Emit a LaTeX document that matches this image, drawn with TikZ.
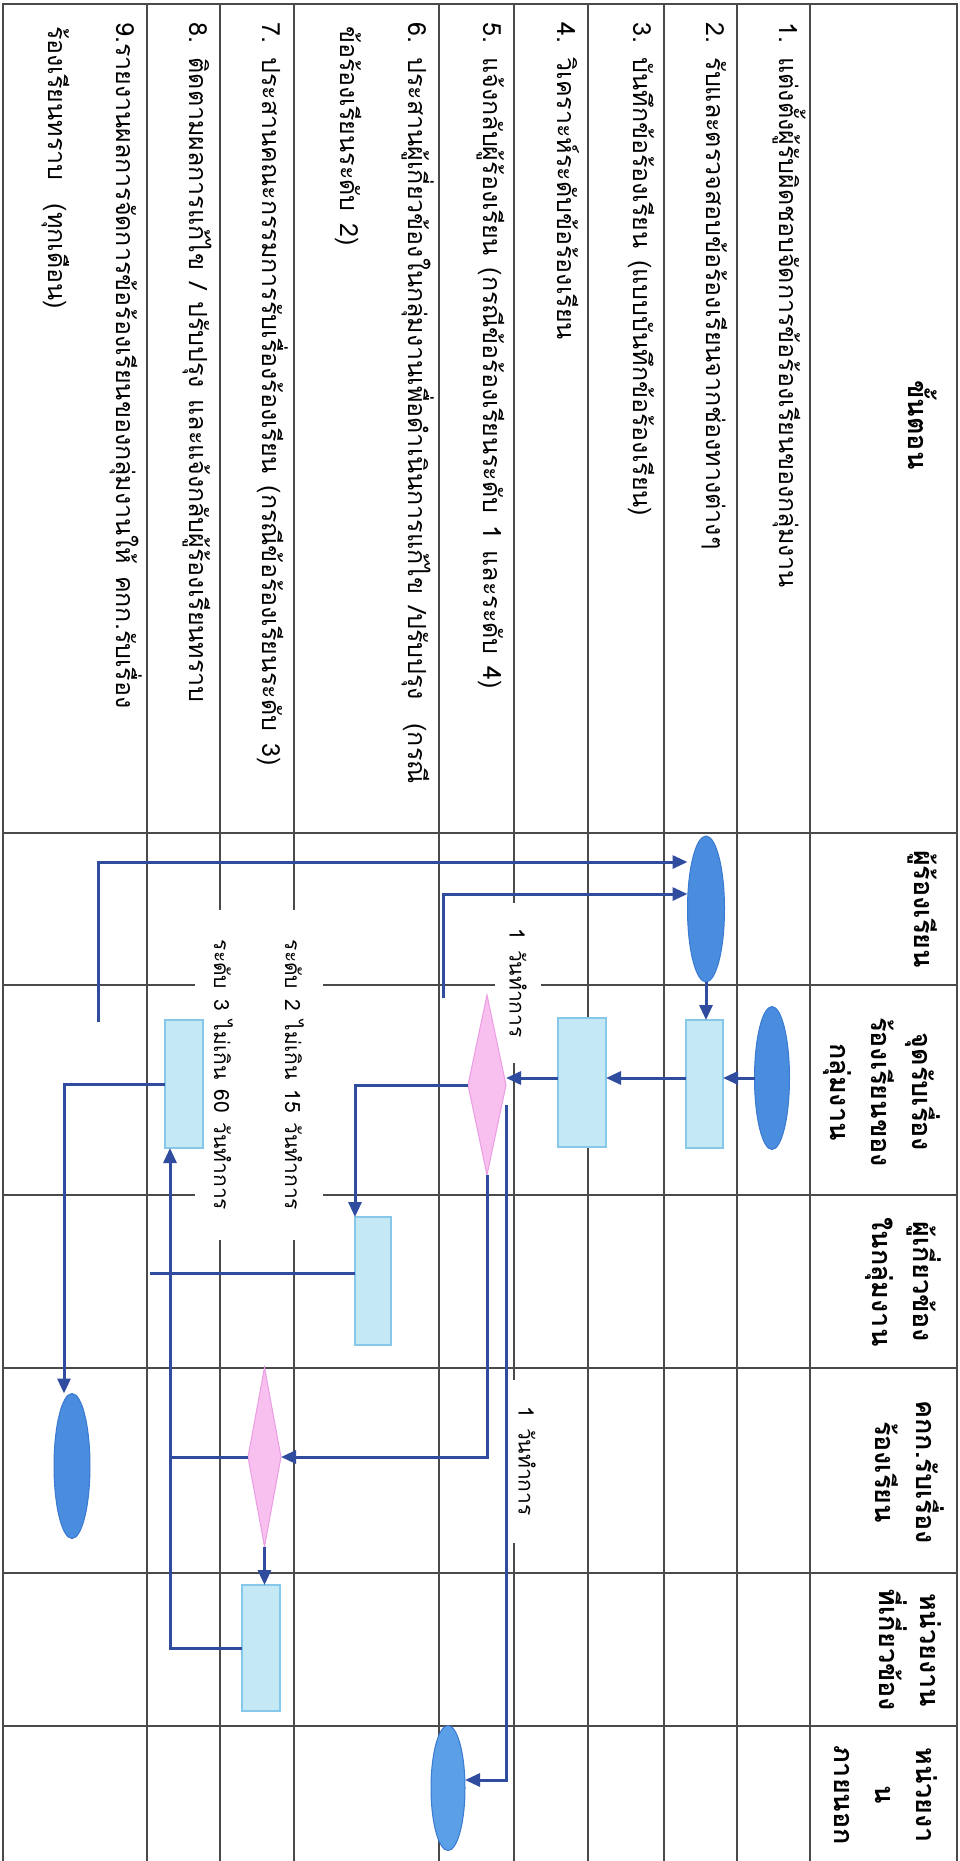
\documentclass[tikz,border=0pt]{standalone}
\usepackage{fontspec}
\newfontfamily\thai[Script=Thai]{Loma}
\newfontfamily\thaiw[Script=Thai,WordSpace=1.4]{Loma}
\usetikzlibrary{shapes.geometric,arrows.meta,calc}
\definecolor{gridc}{HTML}{4A4A4A}
\definecolor{conc}{HTML}{2F4C9E}
\definecolor{ellf}{HTML}{4A8CDE}
\definecolor{elld}{HTML}{3A7AD0}
\definecolor{ellt}{HTML}{5B9FE6}
\definecolor{boxf}{HTML}{C4E9F5}
\definecolor{boxd}{HTML}{86C7EA}
\definecolor{diaf}{HTML}{F7C0EE}
\definecolor{diad}{HTML}{EC9CE2}
\tikzset{
  grid/.style={draw=gridc, line width=1.6pt},
  conn/.style={draw=conc, line width=3pt, -{Triangle[length=15pt,width=13pt]}},
  plainline/.style={draw=conc, line width=3pt},
  ell/.style={ellipse, fill=ellf, draw=elld, line width=1pt, inner sep=0pt, outer sep=0pt},
  bx/.style={rectangle, fill=boxf, draw=boxd, line width=1.5pt, inner sep=0pt, outer sep=0pt},
  dia/.style={diamond, fill=diaf, draw=diad, line width=1pt, inner sep=0pt, outer sep=0pt},
  rowtxt/.style={rotate=-90, anchor=base west, inner sep=0pt, font={\thaiw\fontsize{25}{30}\selectfont}},
  hdr/.style={rotate=-90, inner sep=0pt, font={\thai\bfseries\fontsize{27}{41}\selectfont}},
  lbl/.style={rotate=-90, fill=white, inner sep=0pt, font={\thai\fontsize{21}{71}\selectfont}},
}
\begin{document}
\begin{tikzpicture}[x=1pt,y=-1pt]
\useasboundingbox (0,0) rectangle (959,1861);
\fill[white] (0,0) rectangle (959,1861);
% table grid
\draw[grid] (3,1870) -- (3,4) -- (957,4) -- (957,1870);
\foreach \x in {147,220,294,439,514,588,664,737,810} \draw[grid] (\x,4) -- (\x,1870);
\foreach \y in {833,985,1195,1368,1573,1726} \draw[grid] (3,\y) -- (957,\y);
% headers
\node[hdr] (h0) at (923,425) {ขั้นตอน};
\node[hdr] (h1) at (923,909) {ผู้ร้องเรียน};
\node[hdr, align=center] (h2) at (882,1092) {จุดรับเรื่อง\\ร้องเรียนของ\\กลุ่มงาน};
\node[hdr, align=center] (h3) at (903,1282) {ผู้เกี่ยวข้อง\\ในกลุ่มงาน};
\node[hdr, align=center] (h4) at (910,1472) {คกก.รับเรื่อง\\ร้องเรียน};
\node[hdr, align=center] (h5) at (910,1650) {หน่วยงาน\\ที่เกี่ยวข้อง};
\node[hdr, align=center] (h6) at (886,1795) {หน่วยงา\\น\\ภายนอก};
% step texts
\node[rowtxt] (r1) at (779,22) {1. แต่งตั้งผู้รับผิดชอบจัดการข้อร้องเรียนของกลุ่มงาน};
\node[rowtxt] (r2) at (706,22) {2. รับและตรวจสอบข้อร้องเรียนจากช่องทางต่างๆ};
\node[rowtxt] (r3) at (633,22) {3. บันทึกข้อร้องเรียน (แบบบันทึกข้อร้องเรียน)};
\node[rowtxt] (r4) at (557,22) {4. วิเคราะห์ระดับข้อร้องเรียน};
\node[rowtxt] (r5) at (483,22) {5. แจ้งกลับผู้ร้องเรียน (กรณีข้อร้องเรียนระดับ 1 และระดับ 4)};
\node[rowtxt] (r6a) at (408,22) {6. ประสานผู้เกี่ยวข้องในกลุ่มงานเพื่อดำเนินการแก้ไข /ปรับปรุง \ (กรณี};
\node[rowtxt] (r6b) at (340,26) {ข้อร้องเรียนระดับ 2)};
\node[rowtxt] (r7) at (262,22) {7. ประสานคณะกรรมการรับเรื่องร้องเรียน (กรณีข้อร้องเรียนระดับ 3)};
\node[rowtxt] (r8) at (189,22) {8. ติดตามผลการแก้ไข / ปรับปรุง และแจ้งกลับผู้ร้องเรียนทราบ};
\node[rowtxt] (r9a) at (116,22) {9.รายงานผลการจัดการข้อร้องเรียนของกลุ่มงานให้ คกก.รับเรื่อง};
\node[rowtxt] (r9b) at (48,26) {ร้องเรียนทราบ \ (ทุกเดือน)};
% labels on the lines
\node[lbl, align=center, minimum width=330pt, minimum height=128pt] (lv) at (259,1075) {ระดับ 2 ไม่เกิน 15 วันทำการ\\ระดับ 3 ไม่เกิน 60 วันทำการ};
\node[lbl, minimum width=160pt, minimum height=46pt] (t1) at (518,983) {1 วันทำการ};
\node[lbl, minimum width=163pt, minimum height=38pt] (t2) at (527,1461) {1 วันทำการ};
% shapes
\node[ell, minimum width=37pt, minimum height=146pt] (e1) at (706,909) {};
\node[ell, minimum width=35pt, minimum height=143pt] (e2) at (772,1078) {};
\node[ell, minimum width=36pt, minimum height=145pt] (e4) at (72,1466) {};
\node[ell, fill=ellt, minimum width=34pt, minimum height=125pt] (e3) at (448,1788) {};
\node[bx, minimum width=37pt, minimum height=128pt] (b1) at (704.5,1084) {};
\node[bx, minimum width=48pt, minimum height=129pt] (b2) at (582,1082.5) {};
\node[bx, minimum width=36pt, minimum height=128pt] (b3) at (373,1281) {};
\node[bx, minimum width=38pt, minimum height=128pt] (b4) at (184,1084) {};
\node[bx, minimum width=38pt, minimum height=126pt] (b5) at (261,1648) {};
\node[dia, minimum width=38pt, minimum height=180pt] (d1) at (487,1085) {};
\node[dia, minimum width=33pt, minimum height=179pt] (d2) at (264.5,1457) {};
% free ends
\coordinate (fa) at (98,1022);
\coordinate (fb) at (443,998);
\coordinate (fc) at (150,1273);
\coordinate (bl) at ([xshift=5pt]b4.south west);
% connectors
\draw[conn] (fa) |- ([yshift=47pt]e1.west);
\draw[conn] (fb) |- ([yshift=15pt]e1.west);
\draw[conn] (e1.south) -- (e1.south |- b1.north);
\draw[conn] (e2.west) -- (e2.west -| b1.east);
\draw[conn] (b1.west |- e2.west) -- (b2.east |- e2.west);
\draw[conn] (b2.west |- e2.west) -- (d1.east |- e2.west);
\draw[conn] (d1.west) -| (b3.north west);
\draw[conn] (d1.south) |- (d2.east);
\draw[conn] ([yshift=-20pt]d1.east) |- ([yshift=8pt]e3.east);
\draw[plainline] ([yshift=8pt]b3.west) -- (fc);
\draw[conn] (d2.south) -- (d2.south |- b5.north);
\draw[conn] (b5.west) -| (bl);
\draw[plainline] (d2.west) -- (d2.west -| bl);
\draw[conn] (b4.west) -| ([xshift=-8pt]e4.north);
\end{tikzpicture}
\end{document}
